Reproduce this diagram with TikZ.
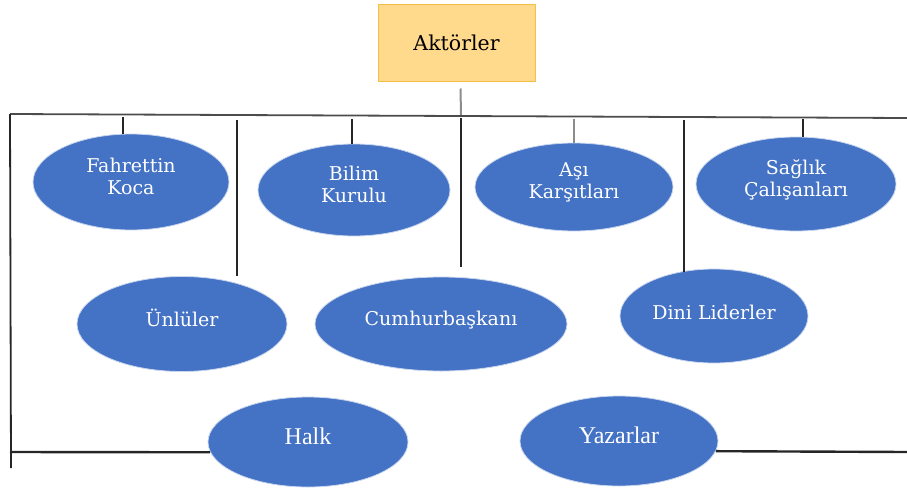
\documentclass[tikz,border=0pt]{standalone}
\usepackage{fontspec}
\setmainfont{DejaVu Serif}
\newfontfamily\narrowserif{Liberation Serif}
\usetikzlibrary{shapes.geometric}
\definecolor{actorblue}{HTML}{4472C4}
\definecolor{headfill}{HTML}{FFD98C}
\definecolor{headline}{HTML}{F4C146}
\begin{document}
\begin{tikzpicture}[x=1pt,y=-1pt,
  actor/.style={ellipse, fill=actorblue, draw=white!70!actorblue, line width=0.8pt,
    minimum width=2*#1, text=white, font=\fontsize{19}{22}\selectfont, align=center,
    inner sep=0pt, text depth=12pt},
  actor/.default=98pt,
  head/.style={rectangle, fill=headfill, draw=headline, line width=1pt,
    minimum width=157pt, minimum height=77pt, font=\fontsize{20.5}{24}\selectfont},
  link/.style={line width=2.4pt, black!85},
  softlink/.style={line width=2pt, black!45}]
\useasboundingbox (0,0) rectangle (907,490);

% heading box
\node[head] (akt) at (456.5,42.5) {Akt\"orler};

% actors
\node[actor, minimum height=96pt] (fk) at (131,182) {Fahrettin\\Koca};
\node[actor, minimum width=192pt, minimum height=92pt] (bk) at (354,190) {Bilim\\Kurulu};
\node[actor, minimum width=198pt, minimum height=88pt] (ak) at (574,187) {A\c{s}\i\\Kar\c{s}\i tlar\i};
\node[actor, minimum width=200pt, minimum height=94pt] (sc) at (796,184) {Sa\u{g}l\i k\\\c{C}al\i\c{s}anlar\i};
\node[actor, minimum width=210pt, minimum height=95pt] (un) at (182,324) {\"Unl\"uler};
\node[actor, minimum width=252pt, minimum height=94pt] (cb) at (441,324) {Cumhurba\c{s}kan\i};
\node[actor, minimum width=188pt, minimum height=94pt, text depth=8pt] (dl) at (714,316) {Dini Liderler};
\node[actor, minimum width=200pt, minimum height=90pt, font=\narrowserif\fontsize{24}{28}\selectfont] (halk) at (308,442) {Halk};
\node[actor, minimum width=198pt, minimum height=90pt, font=\narrowserif\fontsize{24}{28}\selectfont] (yaz) at (619,441) {Yazarlar};

% frame points
\coordinate (tl) at (10,114);
\coordinate (tr) at (907,118);
\coordinate (bl) at (11,468);
\coordinate (blin) at (10,452);
\coordinate (brin) at (907,452);
\coordinate (hub) at (461,115);

% branch points on the top rail
\coordinate (pfk) at (123,117);
\coordinate (pbk) at (352,119);
\coordinate (pak) at (574,119);
\coordinate (psc) at (803,119);
\coordinate (v1a) at (237,120);
\coordinate (v1b) at (237,276);
\coordinate (v2a) at (461,118);
\coordinate (v2b) at (461,267);
\coordinate (v3a) at (684,120);
\coordinate (v3b) at (684,272);

% rails
\draw[softlink] (akt.south) ++(4,7) -- (hub);
\draw[line width=1.8pt, black!70] (tl) -- (tr);
\draw[line width=1.8pt, black!85] (tl) -- (bl);
\draw[link] (blin) -- (halk.186);
\draw[link] (yaz.-6) -- (brin);

% drops to the top-row actors
\draw[link] (pfk) -- (pfk |- fk.north);
\draw[link] (pbk) -- (pbk |- bk.north);
\draw[softlink] (pak) -- (ak.north);
\draw[link] (psc) -- (psc |- sc.north);

% separators between the actors
\draw[link] (v1a) -- (v1b);
\draw[link] (v2a) -- (v2b);
\draw[link] (v3a) -- (v3b);
\end{tikzpicture}
\end{document}
